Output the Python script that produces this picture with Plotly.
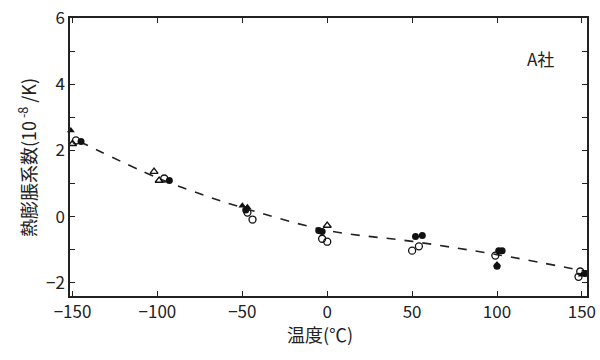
import plotly.graph_objects as go

# data (temperature in degC, coefficient in 1e-8/K)
tri_filled_x = [-151, -50, -47, 100, 150]
tri_filled_y = [2.6, 0.33, 0.28, -1.45, -1.76]
tri_open_x = [-150, -102, -99, 0]
tri_open_y = [2.2, 1.36, 1.09, -0.27]
circ_open_x = [-148, -96, -47, -44, -3, 0, 50, 54, 99, 149, 148]
circ_open_y = [2.3, 1.15, 0.12, -0.09, -0.67, -0.76, -1.03, -0.9, -1.18, -1.66, -1.82]
circ_filled_x = [-145, -93, -48, -5, -3, 52, 56, 101, 103, 100, 152, 154]
circ_filled_y = [2.27, 1.09, 0.2, -0.42, -0.45, -0.6, -0.57, -1.03, -1.03, -1.5, -1.72, -1.65]
fit_x = [-146, -100, -70, -50, 0, 50, 100, 153]
fit_y = [2.27, 1.17, 0.6, 0.27, -0.42, -0.75, -1.15, -1.66]

x_ticks = [-150, -100, -50, 0, 50, 100, 150]
x_text = ["−150", "−100", "−50", "0", "50", "100", "150"]
y_ticks = [-2, 0, 2, 4, 6]
y_text = ["−2", "0", "2", "4", "6"]

FONT = "Noto Sans CJK JP, Noto Sans, sans-serif"
INK = "#222"

fig = go.Figure()
fig.add_trace(go.Scatter(x=fit_x, y=fit_y, mode="lines",
                         line=dict(color=INK, width=1.6, dash="dash"),
                         line_shape="spline", showlegend=False))
mk = dict(size=7, color="#111")
fig.add_trace(go.Scatter(x=tri_filled_x, y=tri_filled_y, mode="markers", cliponaxis=False,
                         marker=dict(symbol="triangle-up", **mk), showlegend=False))
fig.add_trace(go.Scatter(x=tri_open_x, y=tri_open_y, mode="markers", cliponaxis=False,
                         marker=dict(symbol="triangle-up-open", line=dict(width=1.3), **mk),
                         showlegend=False))
fig.add_trace(go.Scatter(x=circ_open_x, y=circ_open_y, mode="markers", cliponaxis=False,
                         marker=dict(symbol="circle-open", line=dict(width=1.3), **mk),
                         showlegend=False))
fig.add_trace(go.Scatter(x=circ_filled_x, y=circ_filled_y, mode="markers", cliponaxis=False,
                         marker=dict(symbol="circle", **mk), showlegend=False))

# plot area: x 70..587, y 18..296 (pixels)
L, R, T, B = 70, 587, 18, 296
W, H = R - L, B - T


def px(xp, yp):
    return (xp - L) / W, (B - yp) / H


def note(xp, yp, text, angle=0, size=18):
    x, y = px(xp, yp)
    fig.add_annotation(x=x, y=y, xref="paper", yref="paper", text=text,
                       xanchor="center", yanchor="middle", textangle=angle,
                       showarrow=False, font=dict(size=size, color=INK, family=FONT))


note(540, 58, "A社", size=17)
note(320, 334, "温度(℃)")
note(27, 158, "熱膨脹系数(10<sup> -8</sup> /K)", angle=-90)

fig.update_layout(
    width=600, height=360,
    margin=dict(l=L, r=600 - R, t=T, b=360 - B, autoexpand=False),
    paper_bgcolor="white", plot_bgcolor="white",
    font=dict(family=FONT, size=17, color=INK),
    hovermode=False,
    xaxis=dict(range=[-151.5, 153], tickvals=x_ticks, ticktext=x_text,
               ticks="inside", ticklen=5, tickwidth=1.2, tickcolor=INK,
               showline=True, linecolor=INK, linewidth=1.5, mirror="ticks",
               showgrid=False, zeroline=False, automargin=False),
    yaxis=dict(range=[-2.4, 6], tickvals=y_ticks, ticktext=y_text,
               ticks="inside", ticklen=5, tickwidth=1.2, tickcolor=INK,
               minor=dict(dtick=1, tick0=0, ticks="inside", ticklen=5, tickcolor=INK),
               showline=True, linecolor=INK, linewidth=1.5, mirror="ticks",
               showgrid=False, zeroline=False, automargin=False),
)

fig.write_html("out.html", config={"displayModeBar": False},
               post_script="document.body.style.margin='0';document.body.style.padding='0';")
